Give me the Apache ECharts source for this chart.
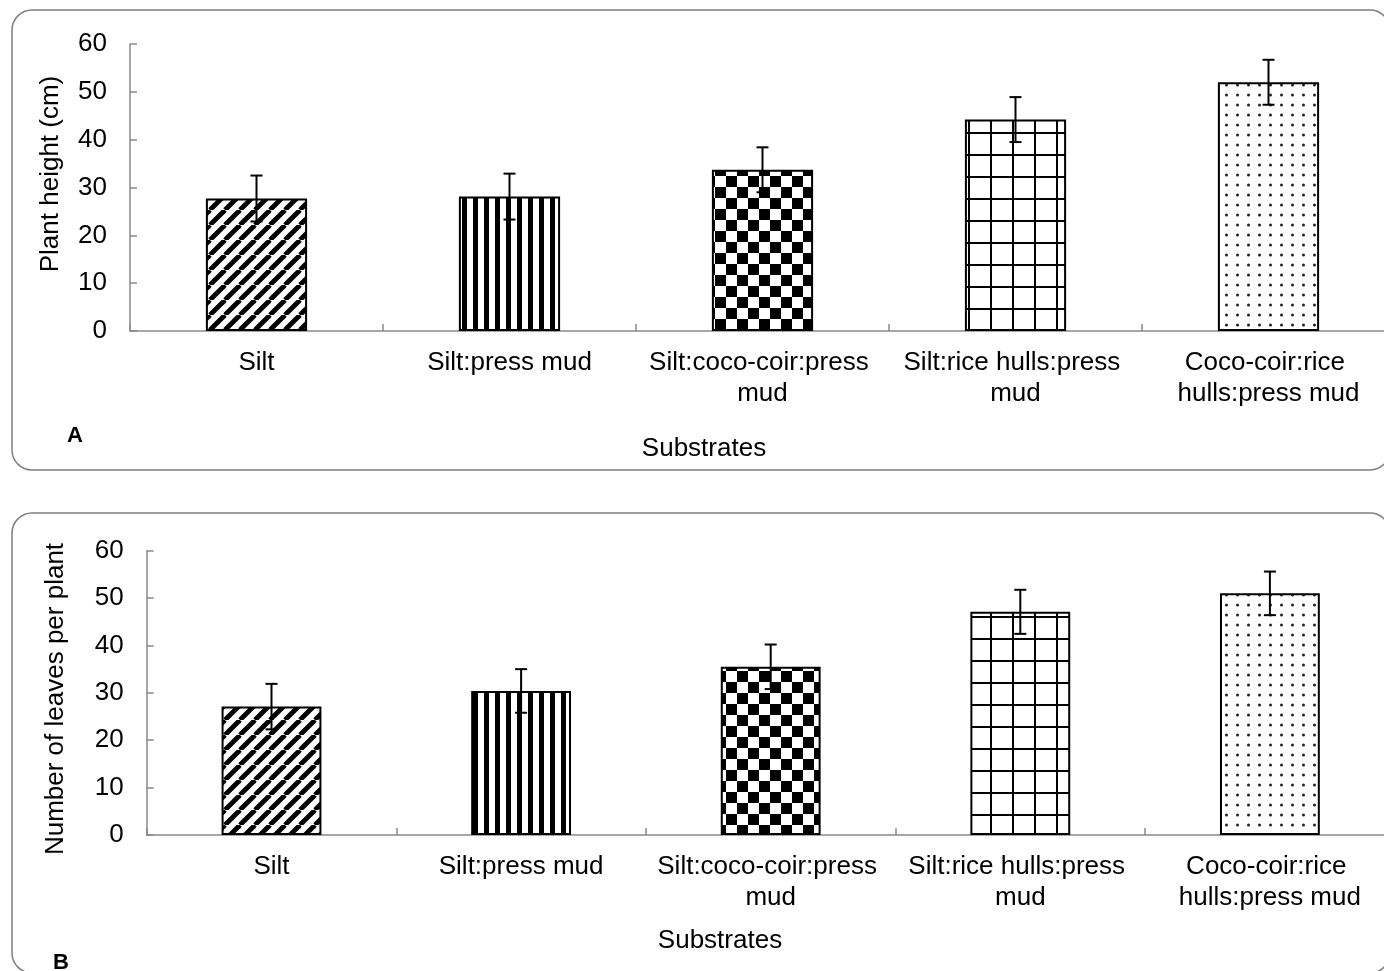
<!DOCTYPE html>
<html><head><meta charset="utf-8">
<script src="https://cdn.jsdelivr.net/npm/echarts@6/dist/echarts.min.js"></script>
<style>html,body{margin:0;padding:0;background:#fff}#c{width:1384px;height:971px}</style>
</head><body><div id="c"></div>
<script>
// ---- data ----
const categories = ['Silt', 'Silt:press mud', 'Silt:coco-coir:press mud', 'Silt:rice hulls:press mud', 'Coco-coir:rice hulls:press mud'];
const plantHeight = [27.7, 28.1, 33.7, 44.2, 52.0];
const plantHeightErr = [4.8, 4.8, 4.7, 4.7, 4.7];
const leavesPerPlant = [27.1, 30.4, 35.5, 47.1, 51.0];
const leavesPerPlantErr = [4.8, 4.6, 4.7, 4.65, 4.6];
const yMin = 0, yMax = 60, yStep = 10;
const titleA = 'Plant height (cm)';
const titleB = 'Number of leaves per plant';
const xTitle = 'Substrates';

// ---- patterns ----
function mk(w, h, draw) {
  const c = document.createElement('canvas'); c.width = w; c.height = h;
  const g = c.getContext('2d'); g.fillStyle = '#fff'; g.fillRect(0, 0, w, h); draw(g, w, h);
  return { image: c, repeat: 'repeat' };
}
const patDiag = mk(15, 15, (g, s) => {
  g.strokeStyle = '#000'; g.lineWidth = 4.8;
  for (let k = -1; k <= 1; k++) { g.beginPath(); g.moveTo(k * s, s); g.lineTo(k * s + s, 0); g.stroke(); }
});
const patVert = mk(11, 11, (g) => { g.fillStyle = '#000'; g.fillRect(0, 0, 5, 11); });
const patCheck = mk(22, 22, (g) => { g.fillStyle = '#000'; g.fillRect(0, 0, 11, 11); g.fillRect(11, 11, 11, 11); });
const patGrid = mk(22, 22, (g) => { g.fillStyle = '#000'; g.fillRect(0, 0, 22, 2); g.fillRect(0, 0, 2, 22); });
const patDots = mk(11, 10, (g) => { g.fillStyle = '#222'; g.beginPath(); g.arc(5.5, 5, 1.5, 0, Math.PI * 2); g.fill(); });
const patterns = [patDiag, patVert, patCheck, patGrid, patDots];

const FONT = 'Arial, "Liberation Sans", sans-serif';
const AXC = '#8a8a8a';

function xAx(gi) {
  return {
    type: 'category', gridIndex: gi, data: categories,
    axisLine: { lineStyle: { color: AXC, width: 1.5 } },
    axisTick: { show: true, inside: true, length: 7, interval: 0, lineStyle: { color: AXC, width: 1.5 } },
    axisLabel: { interval: 0, color: '#000', fontFamily: FONT, fontSize: 26, lineHeight: 31, margin: 16, width: 248, overflow: 'break' }
  };
}
function yAx(gi) {
  return {
    type: 'value', gridIndex: gi, min: yMin, max: yMax, interval: yStep,
    splitLine: { show: false },
    axisLine: { show: true, lineStyle: { color: AXC, width: 1.5 } },
    axisTick: { show: true, inside: true, length: 7, lineStyle: { color: AXC, width: 1.5 } },
    axisLabel: { color: '#000', fontFamily: FONT, fontSize: 26, margin: 23 }
  };
}
function bars(gi, vals) {
  return {
    type: 'bar', xAxisIndex: gi, yAxisIndex: gi, barWidth: '40%', silent: true,
    data: vals.map((v, i) => ({ value: v, itemStyle: { color: patterns[i], borderColor: '#000', borderWidth: 2 } }))
  };
}
function errs(gi, vals, e) {
  return {
    type: 'custom', xAxisIndex: gi, yAxisIndex: gi, z: 10, silent: true,
    data: vals.map((v, i) => [i, v, e[i]]),
    renderItem: (p, api) => {
      const x = api.value(0), v = api.value(1), d = api.value(2);
      const t = api.coord([x, v + d]), b = api.coord([x, v - d]);
      const st = { stroke: '#000', lineWidth: 2 }, c = 6;
      return { type: 'group', children: [
        { type: 'line', shape: { x1: t[0], y1: t[1], x2: b[0], y2: b[1] }, style: st },
        { type: 'line', shape: { x1: t[0] - c, y1: t[1], x2: t[0] + c, y2: t[1] }, style: st },
        { type: 'line', shape: { x1: b[0] - c, y1: b[1], x2: b[0] + c, y2: b[1] }, style: st }
      ]};
    }
  };
}
function txt(x, y, text, extra) {
  return { type: 'text', x: x, y: y, silent: true,
    style: Object.assign({ text: text, fill: '#000', font: '26px ' + FONT, align: 'center', verticalAlign: 'middle' }, extra || {}) };
}

const chart = echarts.init(document.getElementById('c'), null, { renderer: 'canvas' });
chart.setOption({
  animation: false,
  backgroundColor: '#fff',
  grid: [
    { left: 130, top: 44, width: 1265, height: 287, containLabel: false, outerBoundsMode: 'none' },
    { left: 146.7, top: 550.7, width: 1248, height: 284.3, containLabel: false, outerBoundsMode: 'none' }
  ],
  xAxis: [xAx(0), xAx(1)],
  yAxis: [yAx(0), yAx(1)],
  series: [bars(0, plantHeight), errs(0, plantHeight, plantHeightErr), bars(1, leavesPerPlant), errs(1, leavesPerPlant, leavesPerPlantErr)],
  graphic: [
    { type: 'rect', silent: true, shape: { x: 12, y: 10, width: 1378, height: 460, r: 20 }, style: { fill: null, stroke: '#7f7f7f', lineWidth: 1.5 } },
    { type: 'rect', silent: true, shape: { x: 12, y: 513, width: 1378, height: 460, r: 20 }, style: { fill: null, stroke: '#7f7f7f', lineWidth: 1.5 } },
    Object.assign(txt(51, 174, titleA), { rotation: Math.PI / 2 }),
    Object.assign(txt(56, 699, titleB), { rotation: Math.PI / 2 }),
    txt(704, 449, xTitle),
    txt(720, 941, xTitle),
    txt(75, 436, 'A', { font: 'bold 22px ' + FONT }),
    txt(61, 963, 'B', { font: 'bold 22px ' + FONT })
  ]
});
</script></body></html>
